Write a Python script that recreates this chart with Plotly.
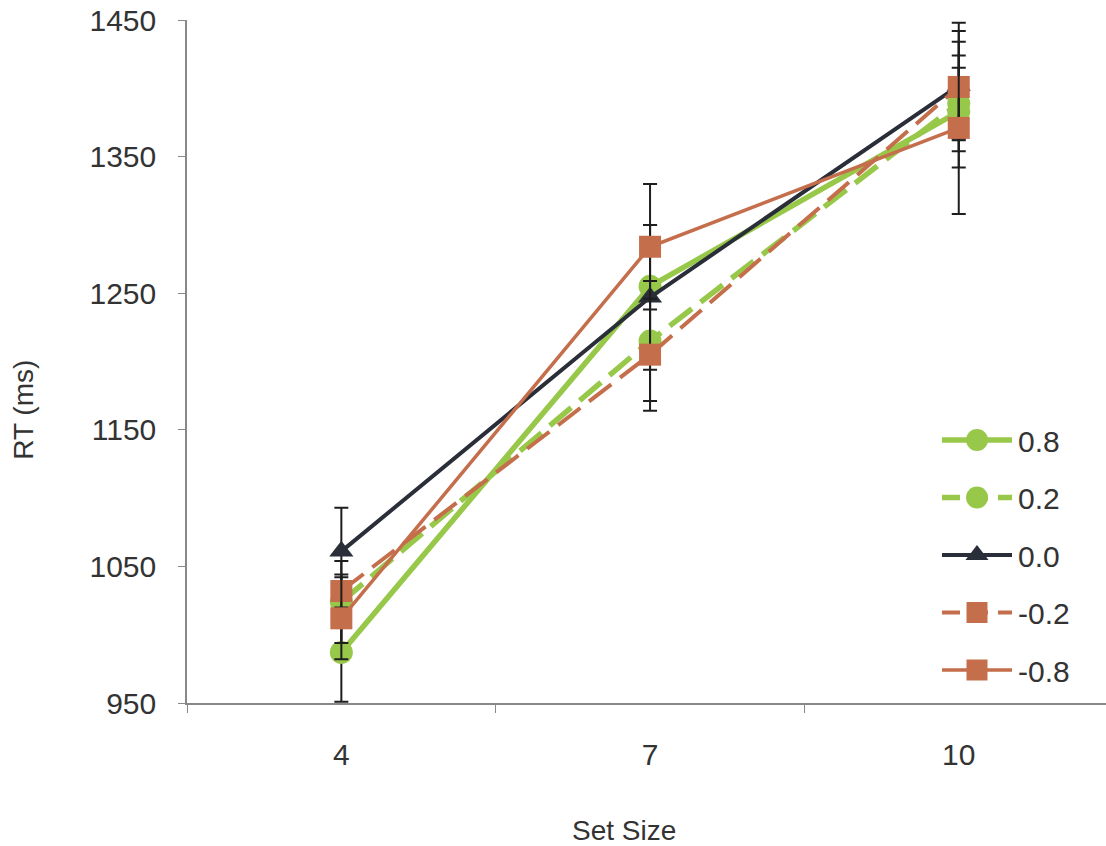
import plotly.graph_objects as go

set_sizes = ["4", "7", "10"]
series_names = ["0.8", "0.2", "0.0", "-0.2", "-0.8"]
rt_08 = [987, 1255, 1383]
rt_02 = [1024, 1215, 1389]
rt_00 = [1061, 1247, 1402]
rt_m02 = [1032, 1205, 1401]
rt_m08 = [1012, 1284, 1371]
err_08 = [36, 45, 41]
err_02 = [30, 44, 26]
err_00 = [32, 53, 40]
err_m02 = [12, 41, 47]
err_m08 = [30, 46, 63]
y_ticks = [950, 1050, 1150, 1250, 1350, 1450]

GREEN = "#98C84A"
DARK = "#2A2E38"
ORANGE = "#C56E4B"
DASH = "28px,11px"

styles = [
    (rt_08, err_08, GREEN, "solid", "circle", 5.5, 23),
    (rt_02, err_02, GREEN, DASH, "circle", 5.5, 23),
    (rt_00, err_00, DARK, "solid", "triangle-up", 4, 21),
    (rt_m02, err_m02, ORANGE, DASH, "square", 4, 22),
    (rt_m08, err_m08, ORANGE, "solid", "square", 3.5, 22),
]

W, H = 1106, 846
ML, MR, MT, MB = 187, 0, 20, 143
FAM = "Liberation Sans, Arial, sans-serif"

fig = go.Figure()
for name, (vals, errs, col, dash, sym, lw, ms) in zip(series_names, styles):
    fig.add_trace(go.Scatter(
        x=set_sizes, y=vals, name=name, mode="lines+markers", showlegend=False,
        line=dict(color=col, width=lw, dash=dash),
        marker=dict(symbol=sym, size=ms, color=col),
        error_y=dict(type="data", array=errs, visible=True, color="#1E1E1E",
                     thickness=2, width=7),
    ))

# custom legend drawn in a pixel-coordinate overlay axis
leg_x0, leg_x1, leg_top, leg_gap = 942, 1012, 440, 57.5
annotations = []
for i, (name, (vals, errs, col, dash, sym, lw, ms)) in enumerate(zip(series_names, styles)):
    yy = leg_top + leg_gap * i
    fig.add_trace(go.Scatter(
        x=[leg_x0, leg_x1], y=[yy, yy], xaxis="x2", yaxis="y2", mode="lines",
        line=dict(color=col, width=lw, dash="18px,10px" if dash != "solid" else dash),
        showlegend=False, hoverinfo="skip"))
    fig.add_trace(go.Scatter(
        x=[(leg_x0 + leg_x1) / 2], y=[yy], xaxis="x2", yaxis="y2", mode="markers",
        marker=dict(symbol=sym, size=ms - 1, color=col), showlegend=False, hoverinfo="skip"))
    annotations.append(dict(text=name, xref="x2", yref="y2", x=leg_x1 + 4, y=yy + 1,
                            xanchor="left", yanchor="middle", showarrow=False,
                            font=dict(family=FAM, size=30, color="#333333")))

font = dict(family=FAM, size=30, color="#333333")
title_font = dict(family=FAM, size=28, color="#333333")
annotations += [
    dict(text="RT (ms)", xref="paper", yref="paper", x=-0.178, y=0.43,
         textangle=-90, showarrow=False, font=title_font, xanchor="center", yanchor="middle"),
    dict(text="Set Size", xref="paper", yref="paper", x=0.476, y=-0.187,
         showarrow=False, font=title_font, xanchor="center", yanchor="middle"),
]

fig.update_layout(
    width=W, height=H,
    margin=dict(l=ML, r=MR, t=MT, b=MB),
    paper_bgcolor="white", plot_bgcolor="white",
    font=font,
    showlegend=False,
    xaxis=dict(type="category", range=[-0.5, 2.477], showgrid=False, zeroline=False,
               showline=True, linecolor="#888888", linewidth=1.5,
               ticks="outside", tickson="boundaries", ticklen=8, tickcolor="#888888",
               ticklabelstandoff=24, tickfont=font),
    yaxis=dict(range=[950, 1450], tickvals=y_ticks, showgrid=False, zeroline=False,
               showline=True, linecolor="#888888", linewidth=1.5,
               ticks="outside", ticklen=7, tickcolor="#888888",
               ticklabelstandoff=16, tickfont=font),
    xaxis2=dict(overlaying="x", range=[ML, W - MR], visible=False, fixedrange=True),
    yaxis2=dict(overlaying="y", range=[H - MB, MT], visible=False, fixedrange=True),
    annotations=annotations,
)

fig.write_html("out.html")
